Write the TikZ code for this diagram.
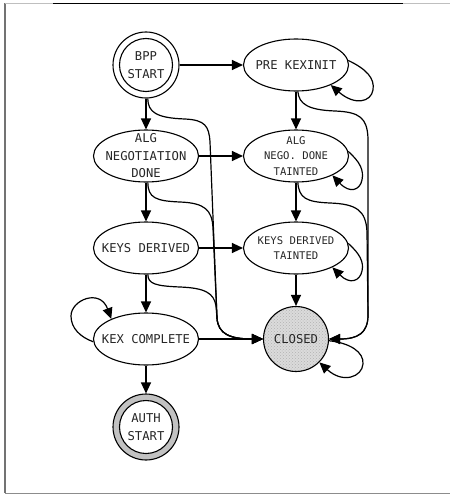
\documentclass[tikz,border=0pt]{standalone}
\usepackage{fontspec}
\newfontfamily\monof{DejaVu Sans Mono}
\usetikzlibrary{shapes.geometric,arrows.meta,patterns}
\begin{document}
\begin{tikzpicture}[x=1pt,y=-1pt,
  ell/.style={ellipse,draw,line width=1.1pt,minimum width=105pt,minimum height=52pt,inner sep=0pt},
  circ/.style={circle,draw,line width=1.1pt,minimum size=66pt,inner sep=0pt},
  big/.style={font=\monof\fontsize{12.2}{17.5}\selectfont,align=center,text=black!85},
  small/.style={font=\monof\fontsize{10.6}{15.5}\selectfont,align=center,text=black!85},
  arr/.style={line width=1.2pt,-{Triangle[length=11pt,width=10pt]}},
]
\useasboundingbox (0,0) rectangle (450,495);
% frame
\draw[black!55, line width=1.5pt] (5,3) -- (5,493);
\draw[black!25, line width=1pt] (5,4) -- (53,4);
\draw[black, line width=1pt] (53,3.7) -- (403,3.7);
\draw[black!25, line width=1pt] (403,4) -- (450,4);
\draw[black!45, line width=1pt] (5,493) -- (450,493);

% nodes
\node[circ, path picture={\draw[line width=1.1pt] (path picture bounding box.center) circle[radius=26.5pt];},
      label={[big]center:{BPP\\START}}] (bpp) at (146,65) {};
\node[ell, label={[big]center:{PRE KEXINIT}}] (pre) at (296,65) {};
\node[ell, label={[big]center:{ALG\\NEGOTIATION\\DONE}}] (alg) at (146,156) {};
\node[ell, label={[small]center:{ALG\\NEGO. DONE\\TAINTED}}] (algt) at (296,156) {};
\node[ell, label={[big]center:{KEYS DERIVED}}] (keys) at (146,248) {};
\node[ell, label={[small]center:{KEYS DERIVED\\TAINTED}}] (keyst) at (296,248) {};
\node[ell, label={[big]center:{KEX COMPLETE}}] (kex) at (146,339) {};
\node[circ, minimum size=65pt, preaction={fill=black!14}, pattern=crosshatch dots, pattern color=black!30,
      label={[big]center:{CLOSED}}] (closed) at (296,339) {};
\node[circ, fill=black!24,
      path picture={\draw[line width=1.1pt, fill=white] (path picture bounding box.center) circle[radius=26.5pt];},
      label={[big]center:{AUTH\\START}}] (auth) at (146,427) {};

% straight edges
\draw[arr] (bpp) -- (pre);
\draw[arr] (bpp) -- (alg);
\draw[arr] (alg) -- (algt);
\draw[arr] (alg) -- (keys);
\draw[arr] (keys) -- (keyst);
\draw[arr] (keys) -- (kex);
\draw[arr] (kex) -- (closed);
\draw[arr] (kex) -- (auth);
\draw[arr] (pre) -- (algt);
\draw[arr] (algt) -- (keyst);
\draw[arr] (keyst) -- (closed);

% curved edges into CLOSED (left)
\draw[arr] (bpp.-87) .. controls (148,112) and (156,118) .. (185,119)
  .. controls (205,120) and (209,126) .. (210,142) -- (217,318)
  .. controls (218,334) and (230,339) .. (closed.west);
\draw[arr] (alg.-86) .. controls (148,198) and (156,201) .. (180,202)
  .. controls (205,203) and (212,210) .. (213,228) -- (217,318)
  .. controls (218,334) and (230,339) .. (closed.west);
\draw[arr] (keys.-86) .. controls (148,284) and (156,286) .. (180,287)
  .. controls (205,288) and (214,293) .. (216,306) -- (217,318)
  .. controls (218,334) and (230,339) .. (closed.west);

% curved edges into CLOSED (right)
\draw[arr] (pre.-86) .. controls (299,104) and (308,110) .. (335,111)
  .. controls (360,112) and (367,118) .. (368,138) -- (368,315)
  .. controls (368,333) and (358,339) .. (closed.east);
\draw[arr] (algt.-86) .. controls (299,198) and (306,202) .. (330,203)
  .. controls (356,204) and (366,210) .. (367,232) -- (368,315)
  .. controls (368,333) and (358,339) .. (closed.east);

% self loops
\draw[arr] (pre.5) .. controls (366,69) and (375,78) .. (373,90)
  .. controls (371,102) and (355,106) .. (pre.-30);
\draw[arr] (algt.5) .. controls (360,162) and (364,170) .. (362,180)
  .. controls (360,190) and (350,194) .. (algt.-28);
\draw[arr] (keyst.5) .. controls (360,254) and (364,262) .. (362,271)
  .. controls (360,281) and (350,285) .. (keyst.-28);
\draw[arr] (closed.-3) .. controls (350,343) and (364,352) .. (363,364)
  .. controls (362,377) and (343,384) .. (closed.-45);
\draw[arr] (kex.183) .. controls (80,337) and (71,328) .. (71,316)
  .. controls (71,300) and (100,288) .. (kex.150);
\end{tikzpicture}
\end{document}
